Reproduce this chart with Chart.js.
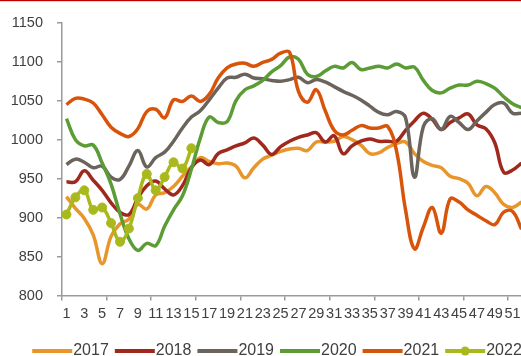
<!DOCTYPE html>
<html>
<head>
<meta charset="utf-8">
<script src="https://cdn.jsdelivr.net/npm/chart.js@4.4.1/dist/chart.umd.min.js"></script>
<style>
  html, body { margin: 0; padding: 0; overflow: hidden; background: #ffffff; }
  #wrap { position: relative; width: 554px; height: 369px; }
</style>
</head>
<body>
<div id="wrap"><canvas id="chart" width="554" height="369"></canvas></div>
<script>
// Week numbers on the category axis
const weeks = ['1','2','3','4','5','6','7','8','9','10','11','12','13','14','15','16','17','18','19','20',
  '21','22','23','24','25','26','27','28','29','30','31','32','33','34','35','36','37','38','39','40',
  '41','42','43','44','45','46','47','48','49','50','51','52'];

// Weekly values per year
const y2017 = [927,912,899,878,841,876,892,898,917,911,929,932,940,953,965,977,972,969,970,966,
  951,964,975,980,985,988,989,986,997,997,998,1004,1000,993,982,983,990,995,997,982,
  972,967,964,953,950,944,928,940,932,917,913,920];
const y2018 = [946,946,960,948,935,919,907,904,925,941,947,937,929,941,964,974,968,982,987,992,
  996,1002,993,981,991,998,1003,1006,1009,997,1005,982,992,998,1001,998,998,998,1012,1024,
  1034,1026,1013,1022,1028,1033,1019,1014,996,958,961,970];
const y2019 = [968,975,971,964,966,952,949,966,986,965,977,984,998,1015,1029,1037,1051,1066,1079,1080,
  1084,1079,1078,1076,1075,1077,1080,1073,1077,1074,1068,1062,1057,1051,1043,1035,1032,1036,1028,952,
  1017,1027,1013,1030,1022,1013,1024,1035,1045,1047,1034,1034];
const y2020 = [1027,1000,992,993,970,943,905,873,858,867,864,889,910,928,962,1002,1029,1022,1023,1050,
  1064,1069,1076,1087,1095,1106,1103,1084,1081,1088,1094,1092,1099,1090,1092,1094,1092,1097,1092,1093,
  1076,1063,1060,1066,1070,1070,1075,1072,1066,1055,1046,1041];
const y2021 = [1045,1053,1052,1047,1032,1016,1008,1004,1014,1036,1039,1028,1051,1049,1056,1049,1058,1079,1092,1097,
  1098,1094,1099,1103,1111,1112,1062,1048,1064,1037,1012,1006,1012,1018,1015,1015,1017,985,910,860,
  888,913,880,924,920,910,903,896,891,907,908,885];
const y2022 = [904,926,935,910,913,893,869,886,925,956,935,952,971,963,989];

// Value axis range
const yMin = 800, yMax = 1150, yStep = 50;

const axisGray = '#9a9a9a';
const textColor = '#404040';
const fontFamily = '"Liberation Sans", Arial, sans-serif';

function series(label, data, color, order, dots) {
  return {
    label, data, order,
    borderColor: color,
    backgroundColor: color,
    borderWidth: 3.5,
    tension: 0.4,
    pointRadius: dots ? 4.5 : 0,
    pointHoverRadius: dots ? 4.5 : 0,
    pointBackgroundColor: color,
    pointBorderColor: color,
    pointBorderWidth: 1,
    fill: false
  };
}

// Thin red rule across the top of the figure
const topRule = {
  id: 'topRule',
  afterDraw(chart) {
    const ctx = chart.ctx;
    ctx.save();
    ctx.fillStyle = '#c00000';
    ctx.fillRect(0, 0, chart.width, 1.2);
    ctx.restore();
  }
};

// Nudge the legend row to the right so it sits under the plot
const legendShift = {
  id: 'legendShift',
  afterLayout(chart) {
    if (chart.legend) {
      chart.legend.left += 8.5;
      chart.legend.right += 8.5;
    }
  }
};

// Line samples (with a marker for the dotted series) in the legend
const legendLines = {
  id: 'legendLines',
  afterDraw(chart) {
    const lg = chart.legend;
    if (!lg || !lg.legendHitBoxes) return;
    const ctx = chart.ctx;
    lg.legendItems.forEach((item, i) => {
      const hb = lg.legendHitBoxes[i];
      const ds = chart.data.datasets[item.datasetIndex];
      const y = hb.top + hb.height / 2;
      ctx.save();
      ctx.strokeStyle = ds.borderColor;
      ctx.lineWidth = 4;
      ctx.lineCap = 'butt';
      ctx.beginPath();
      ctx.moveTo(hb.left, y);
      ctx.lineTo(hb.left + 40, y);
      ctx.stroke();
      if (ds.pointRadius > 0) {
        ctx.fillStyle = ds.borderColor;
        ctx.beginPath();
        ctx.arc(hb.left + 20, y, 4.5, 0, Math.PI * 2);
        ctx.fill();
      }
      ctx.restore();
    });
  }
};

new Chart(document.getElementById('chart'), {
  type: 'line',
  data: {
    labels: weeks,
    datasets: [
      series('2017', y2017, '#e8962b', 5, false),
      series('2018', y2018, '#a0291e', 4, false),
      series('2019', y2019, '#6b645c', 3, false),
      series('2020', y2020, '#5b9c34', 2, false),
      series('2021', y2021, '#d9540b', 1, false),
      series('2022', y2022, '#a9b91d', 0, true)
    ]
  },
  options: {
    responsive: false,
    animation: false,
    devicePixelRatio: 1,
    layout: { padding: { left: 11, right: 28, top: 22, bottom: 0 } },
    plugins: {
      tooltip: { enabled: false },
      legend: {
        position: 'bottom',
        labels: {
          boxWidth: 33,
          boxHeight: 4,
          padding: 6,
          color: textColor,
          font: { family: fontFamily, size: 16 },
          sort: (a, b) => a.datasetIndex - b.datasetIndex,
          generateLabels(chart) {
            const items = Chart.defaults.plugins.legend.labels.generateLabels(chart);
            items.forEach(it => {
              it.fillStyle = 'rgba(0,0,0,0)';
              it.strokeStyle = 'rgba(0,0,0,0)';
              it.lineWidth = 0;
            });
            return items;
          }
        }
      }
    },
    scales: {
      x: {
        offset: true,
        grid: {
          offset: true,
          drawOnChartArea: false,
          drawTicks: true,
          tickLength: 5,
          lineWidth: 1.5,
          color: ctx => (ctx.index % 5 === 0 ? axisGray : 'rgba(0,0,0,0)')
        },
        border: { display: true, color: axisGray, width: 1.5 },
        ticks: {
          autoSkip: false,
          maxRotation: 0,
          minRotation: 0,
          padding: 5,
          color: textColor,
          font: { family: fontFamily, size: 14.5 },
          callback: (v, i) => (i % 2 === 0 ? weeks[i] : '')
        },
        afterFit: s => { s.height += 9; }
      },
      y: {
        min: yMin,
        max: yMax,
        grid: {
          drawOnChartArea: false,
          drawTicks: true,
          tickLength: 5,
          lineWidth: 1.5,
          color: axisGray
        },
        border: { display: true, color: axisGray, width: 1.5 },
        ticks: {
          stepSize: yStep,
          padding: 14,
          color: textColor,
          font: { family: fontFamily, size: 14.5 },
          callback: v => String(v)
        },
        afterFit: s => { s.width = 51; }
      }
    }
  },
  plugins: [topRule, legendShift, legendLines]
});
</script>
</body>
</html>
